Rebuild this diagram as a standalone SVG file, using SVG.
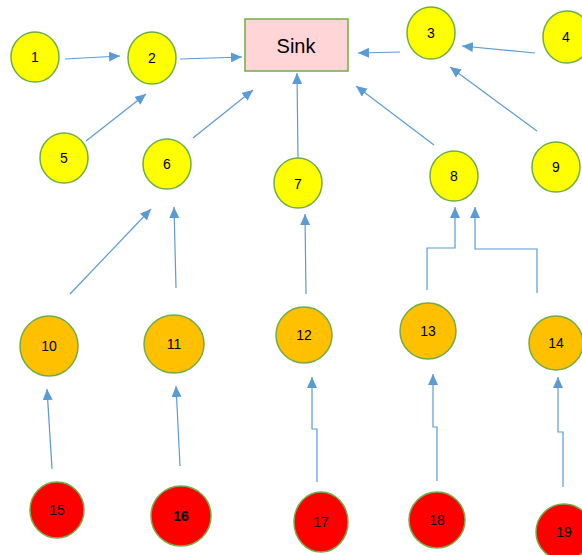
<svg xmlns="http://www.w3.org/2000/svg" width="582" height="555" viewBox="0 0 582 555">
<style>
.n circle, .n ellipse{stroke:#70AD47;stroke-width:1.5}
.y{fill:#FFFF00}
.o{fill:#FFC000}
.r{fill:#FF0000}
text{font-family:"Liberation Sans","Noto Sans",sans-serif;font-size:14px;fill:#000;text-anchor:middle;dominant-baseline:central}
.c path, .c line{stroke:#5B9BD5;stroke-width:1.2;fill:none;marker-end:url(#ah)}
</style>
<defs>
<marker id="ah" markerWidth="11" markerHeight="10" refX="11" refY="5" orient="auto" markerUnits="userSpaceOnUse">
<path d="M0,0 L11,5 L0,10 z" fill="#5B9BD5"/>
</marker>
</defs>
<rect width="582" height="555" fill="#fff"/>
<g class="c" id="connectors">
<line x1="65" y1="59" x2="120" y2="56"/>
<line x1="180" y1="59" x2="242" y2="57"/>
<line x1="86" y1="141" x2="146" y2="94"/>
<line x1="193" y1="138" x2="253" y2="90"/>
<line x1="298" y1="158" x2="297" y2="73"/>
<line x1="400" y1="52" x2="358" y2="53"/>
<line x1="535" y1="53" x2="462" y2="46"/>
<line x1="434" y1="145" x2="356" y2="86"/>
<line x1="537" y1="131" x2="450" y2="67"/>
<line x1="70" y1="294" x2="151" y2="209"/>
<line x1="176" y1="288" x2="174" y2="207"/>
<line x1="306" y1="294" x2="305" y2="214"/>
<path d="M427,290 V248 H455 V207"/>
<path d="M537,293 V249 H475 V207"/>
<line x1="52" y1="469" x2="47" y2="389"/>
<line x1="180" y1="466" x2="176" y2="386"/>
<path d="M317,482 V429 H312 V377"/>
<path d="M437,481 V427 H433 V374"/>
<path d="M563,487 V432 H558 V377"/>
</g>
<g id="sink"><rect x="245" y="19" width="103" height="52" fill="#FFD5D8" stroke="#70AD47" stroke-width="1.5"/><text x="296" y="46" style="font-size:20px">Sink</text></g>
<g id="n1" class="n"><ellipse class="y" cx="35" cy="57" rx="24" ry="25"/><text x="35" y="57">1</text></g>
<g id="n2" class="n"><ellipse class="y" cx="152" cy="58" rx="24" ry="26"/><text x="152" y="58">2</text></g>
<g id="n3" class="n"><ellipse class="y" cx="431" cy="33" rx="24" ry="26"/><text x="431" y="33">3</text></g>
<g id="n4" class="n"><ellipse class="y" cx="567" cy="37" rx="24" ry="26"/><text x="566" y="37">4</text></g>
<g id="n5" class="n"><ellipse class="y" cx="64" cy="158" rx="24" ry="25"/><text x="64" y="158">5</text></g>
<g id="n6" class="n"><ellipse class="y" cx="167" cy="164" rx="24" ry="25"/><text x="167" y="164">6</text></g>
<g id="n7" class="n"><ellipse class="y" cx="298" cy="183" rx="24" ry="25"/><text x="298" y="184">7</text></g>
<g id="n8" class="n"><ellipse class="y" cx="454" cy="176" rx="24" ry="25"/><text x="454" y="176">8</text></g>
<g id="n9" class="n"><ellipse class="y" cx="556" cy="167" rx="24" ry="25"/><text x="556" y="167">9</text></g>
<g id="n10" class="n"><ellipse class="o" cx="49" cy="346" rx="29" ry="30"/><text x="49" y="346">10</text></g>
<g id="n11" class="n"><ellipse class="o" cx="174" cy="344" rx="30" ry="29"/><text x="174" y="344">11</text></g>
<g id="n12" class="n"><ellipse class="o" cx="304" cy="335" rx="28" ry="28"/><text x="304" y="335">12</text></g>
<g id="n13" class="n"><ellipse class="o" cx="428" cy="331" rx="28" ry="28"/><text x="428" y="331">13</text></g>
<g id="n14" class="n"><ellipse class="o" cx="556" cy="343" rx="27" ry="27"/><text x="556" y="343">14</text></g>
<g id="n15" class="n"><ellipse class="r" cx="57" cy="510" rx="27" ry="28"/><text x="57" y="510">15</text></g>
<g id="n16" class="n"><ellipse class="r" cx="181" cy="516" rx="30" ry="30"/><text x="181" y="516" font-weight="bold">16</text></g>
<g id="n17" class="n"><ellipse class="r" cx="321" cy="522" rx="27" ry="30"/><text x="321" y="522">17</text></g>
<g id="n18" class="n"><ellipse class="r" cx="437" cy="520" rx="28" ry="28"/><text x="437" y="520">18</text></g>
<g id="n19" class="n"><ellipse class="r" cx="564" cy="532" rx="28" ry="28"/><text x="564" y="532">19</text></g>
</svg>
